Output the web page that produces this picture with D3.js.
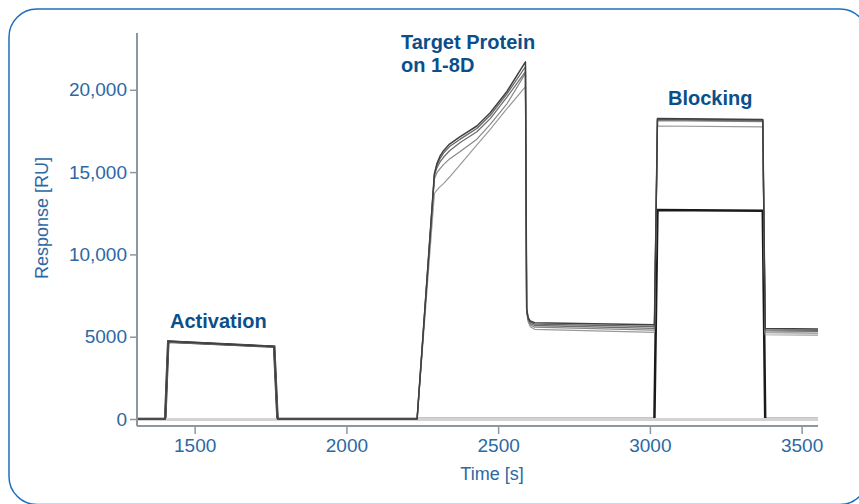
<!DOCTYPE html>
<html>
<head>
<meta charset="utf-8">
<script src="https://cdn.jsdelivr.net/npm/d3@7"></script>
<style>
  body { margin: 0; background: #fff; }
  text { font-family: "Liberation Sans", Arial, sans-serif; }
</style>
</head>
<body>
<script>
// sample times [s], shared by all channels
var time = [1310, 1403, 1413, 1762, 1773, 2233, 2290, 2298, 2308, 2320, 2340, 2375, 2430, 2474, 2529, 2590,
            2594, 2599, 2606, 2620, 3015, 3025, 3372, 3380, 3554];

// response [RU] for each channel
var ch1 = [0, 0, 4720, 4400, 0, 0, 14900, 15500, 15950, 16300, 16700, 17150, 17800, 18600, 19900, 21700,
           6700, 6150, 5950, 5850, 5720, 18250, 18200, 5500, 5470];
var ch2 = [0, 0, 4700, 4390, 0, 0, 14850, 15400, 15800, 16150, 16550, 17000, 17650, 18450, 19750, 21400,
           6650, 6100, 5880, 5760, 5620, 18220, 18170, 5420, 5390];
var ch3 = [0, 0, 4690, 4380, 0, 0, 14800, 15250, 15600, 15900, 16300, 16800, 17450, 18250, 19550, 21100,
           6600, 6050, 5800, 5680, 5500, 18180, 18120, 5350, 5320];
var ch4 = [0, 0, 4700, 4400, 0, 0, 14600, 14950, 15200, 15450, 15800, 16250, 17000, 17900, 19150, 21000,
           6550, 6000, 5720, 5580, 5400, 18120, 18060, 5250, 5220];
var ch5 = [0, 0, 4680, 4390, 0, 0, 13700, 13900, 14100, 14300, 14700, 15450, 16650, 17600, 18850, 20190,
           6500, 5900, 5600, 5450, 5260, 17800, 17750, 5120, 5100];
var reference = [0, 0, 4700, 4400, 0, 0, 0, 0, 0, 0, 0, 0, 0, 0, 0, 0,
                 0, 0, 0, 0, 0, 12700, 12650, 0, 0];

var xTicks = [1500, 2000, 2500, 3000, 3500];
var yTicks = [0, 5000, 10000, 15000, 20000];
var yTickLabels = ["0", "5000", "10,000", "15,000", "20,000"];

var phases = [
    { lines: ["Activation"], x: 170, y: 328 },
    { lines: ["Target Protein", "on 1-8D"], x: 401, y: 49 },
    { lines: ["Blocking"], x: 668, y: 105 }
];

var W = 859, H = 504;
var blue = "#2d68a3", dark = "#0b4f8a", axisCol = "#8c979f";

var svg = d3.select("body").append("svg")
    .attr("width", W)
    .attr("height", H);

// frame
svg.append("rect")
    .attr("x", 9).attr("y", 9)
    .attr("width", 859).attr("height", 495.5)
    .attr("rx", 28)
    .attr("fill", "none")
    .attr("stroke", "#1c6fbe")
    .attr("stroke-width", 1.5);

var x = d3.scaleLinear().domain([1310, 3554]).range([137, 818]);
var y = d3.scaleLinear().domain([-425, 23450]).range([426, 33]);

var line = d3.line()
    .x(function (d) { return x(d[0]); })
    .y(function (d) { return y(d[1]); });

function pts(vals) {
    return time.map(function (t, i) { return [t, vals[i]]; });
}

// reference channel first, zero line over it
svg.append("path")
    .attr("d", line(pts(reference)))
    .attr("fill", "none")
    .attr("stroke", "#1a1a1a")
    .attr("stroke-width", 2.5);

svg.append("line")
    .attr("x1", x(1310)).attr("x2", x(3554))
    .attr("y1", y(0) + 0.5).attr("y2", y(0) + 0.5)
    .attr("stroke", "#d2d2d2")
    .attr("stroke-width", 2.8);

var channels = [
    { v: ch5, c: "#999", w: 1.2 },
    { v: ch4, c: "#888", w: 1.2 },
    { v: ch3, c: "#6e6e6e", w: 1.3 },
    { v: ch2, c: "#666", w: 1.3 },
    { v: ch1, c: "#404040", w: 1.5 }
];

channels.forEach(function (ch) {
    svg.append("path")
        .attr("d", line(pts(ch.v)))
        .attr("fill", "none")
        .attr("stroke", ch.c)
        .attr("stroke-width", ch.w)
        .attr("stroke-linejoin", "round");
});

// axes
var gx = svg.append("g")
    .attr("transform", "translate(0," + 426 + ")")
    .call(d3.axisBottom(x).tickValues(xTicks).tickSize(8).tickPadding(5).tickFormat(d3.format("d")));

var gy = svg.append("g")
    .attr("transform", "translate(" + 137 + ",0)")
    .call(d3.axisLeft(y).tickValues(yTicks).tickSize(7).tickPadding(3)
        .tickFormat(function (d, i) { return yTickLabels[i]; }));

[gx, gy].forEach(function (g) {
    g.select(".domain").attr("stroke", axisCol).attr("stroke-width", 2);
    g.selectAll(".tick line").attr("stroke", axisCol).attr("stroke-width", 1.5);
    g.selectAll(".tick text")
        .attr("fill", blue)
        .style("font-size", "19px")
        .style("font-family", "'Liberation Sans', Arial, sans-serif");
});
gx.select(".domain").attr("d", "M137,0H818");
gy.select(".domain").attr("d", "M0,33V426");

// axis titles
svg.append("text")
    .attr("x", 492).attr("y", 480)
    .attr("text-anchor", "middle")
    .attr("fill", blue)
    .style("font-size", "18px")
    .text("Time [s]");

svg.append("text")
    .attr("transform", "translate(48,218) rotate(-90)")
    .attr("text-anchor", "middle")
    .attr("fill", blue)
    .style("font-size", "18px")
    .text("Response [RU]");

// phase labels
phases.forEach(function (p) {
    var t = svg.append("text")
        .attr("x", p.x).attr("y", p.y)
        .attr("fill", dark)
        .style("font-size", "20px")
        .style("font-weight", "bold");
    p.lines.forEach(function (s, i) {
        t.append("tspan").attr("x", p.x).attr("dy", i ? 22.5 : 0).text(s);
    });
});
</script>
</body>
</html>
